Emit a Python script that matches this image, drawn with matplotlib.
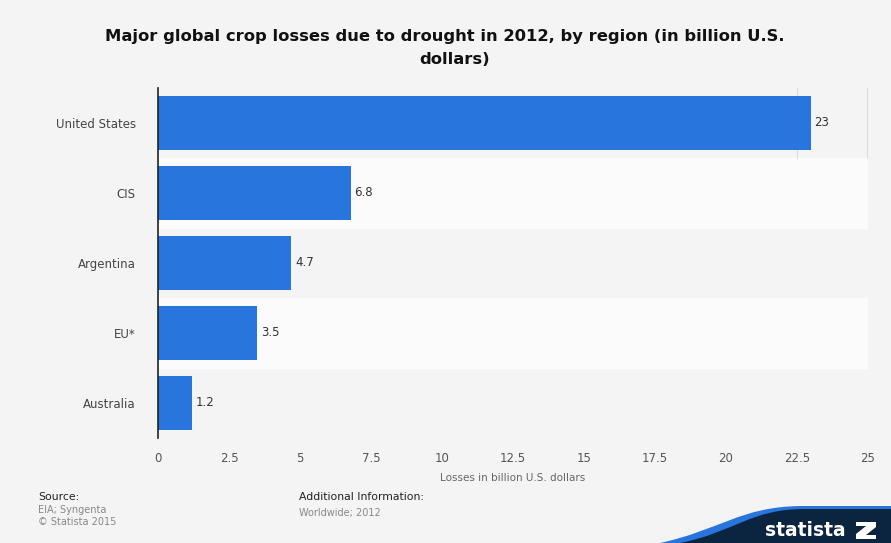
import numpy as np
import matplotlib.pyplot as plt
from matplotlib.path import Path
from matplotlib.patches import PathPatch

# 数据
regions = ["United States", "CIS", "Argentina", "EU*", "Australia"]
losses = [23, 6.8, 4.7, 3.5, 1.2]
value_labels = ["23", "6.8", "4.7", "3.5", "1.2"]
xticks = [0, 2.5, 5, 7.5, 10, 12.5, 15, 17.5, 20, 22.5, 25]
xtick_labels = ["0", "2.5", "5", "7.5", "10", "12.5", "15", "17.5", "20", "22.5", "25"]

W, H = 891, 543
fig = plt.figure(figsize=(W / 100, H / 100), dpi=100)
fig.patch.set_facecolor("#f4f4f4")

ax = fig.add_axes([158 / W, 1 - 438 / H, (868 - 158) / W, 350 / H])
ax.set_facecolor("#f4f4f4")

y = np.arange(len(regions))
# 交替的浅色条带
for i in y:
    if i % 2 == 1:
        ax.axhspan(i - 0.5, i + 0.5, color="#fbfbfb", zorder=0)

ax.barh(y, losses, height=0.77, color="#2876dd", zorder=3)
for yi, v, lab in zip(y, losses, value_labels):
    ax.text(v + 0.12, yi, lab, va="center", ha="left", fontsize=8.5, color="#333333")

ax.set_ylim(len(regions) - 0.5, -0.5)
ax.set_xlim(0, 25)
ax.set_yticks(y)
ax.set_yticklabels(regions, fontsize=8.5, color="#444444")
ax.set_xticks(xticks)
ax.set_xticklabels(xtick_labels, fontsize=8.5, color="#555555")
ax.tick_params(axis="both", length=0, pad=10)
ax.tick_params(axis="y", pad=16)
ax.set_xlabel("Losses in billion U.S. dollars", fontsize=7.5, color="#666666", labelpad=6)

for s in ["top", "right", "bottom"]:
    ax.spines[s].set_visible(False)
ax.spines["left"].set_color("#222222")
ax.spines["left"].set_linewidth(1.2)
ax.spines["left"].set_zorder(5)
# 顶部只隐约可见的网格线
for gx in [22.5, 24.97]:
    ax.plot([gx, gx], [-0.5, 0.5], color="#dcdcdc", linewidth=0.8, zorder=1)

fig.text(445 / W, 1 - 37 / H, "Major global crop losses due to drought in 2012, by region (in billion U.S.",
         ha="center", va="center", fontsize=11.8, fontweight="bold", color="#111111")
fig.text(455 / W, 1 - 60 / H, "dollars)",
         ha="center", va="center", fontsize=11.8, fontweight="bold", color="#111111")

# 页脚
fig.text(38 / W, 1 - 497 / H, "Source:", fontsize=7.8, color="#222222", va="center")
fig.text(38 / W, 1 - 510 / H, "EIA; Syngenta", fontsize=7, color="#888888", va="center")
fig.text(38 / W, 1 - 522 / H, "\u00a9 Statista 2015", fontsize=7, color="#888888", va="center")
fig.text(299 / W, 1 - 497 / H, "Additional Information:", fontsize=7.8, color="#222222", va="center")
fig.text(299 / W, 1 - 513 / H, "Worldwide; 2012", fontsize=7, color="#888888", va="center")

# statista 标志
lax = fig.add_axes([0, 0, 1, 1], zorder=-1)
lax.set_xlim(0, W)
lax.set_ylim(H, 0)
lax.axis("off")
blue = Path([(660, 543), (720, 530), (740, 507), (800, 506), (891, 506), (891, 543), (660, 543)],
            [Path.MOVETO, Path.CURVE4, Path.CURVE4, Path.CURVE4, Path.LINETO, Path.LINETO, Path.CLOSEPOLY])
lax.add_patch(PathPatch(blue, facecolor="#2876dd", edgecolor="none"))
navy = Path([(680, 543), (735, 532), (750, 509), (805, 509), (891, 509), (891, 543), (680, 543)],
            [Path.MOVETO, Path.CURVE4, Path.CURVE4, Path.CURVE4, Path.LINETO, Path.LINETO, Path.CLOSEPOLY])
lax.add_patch(PathPatch(navy, facecolor="#0b2540", edgecolor="none"))
lax.text(805, 530, "statista", color="white", fontsize=13.5, fontweight="bold", ha="center", va="center")
logo = Path([(856, 522), (876, 522), (876, 527), (866, 535), (876, 535), (876, 539), (856, 539),
             (856, 534), (866, 526), (856, 526), (856, 522)])
lax.add_patch(PathPatch(logo, facecolor="white", edgecolor="none"))

fig.savefig("out.png", dpi=100, facecolor=fig.get_facecolor())
